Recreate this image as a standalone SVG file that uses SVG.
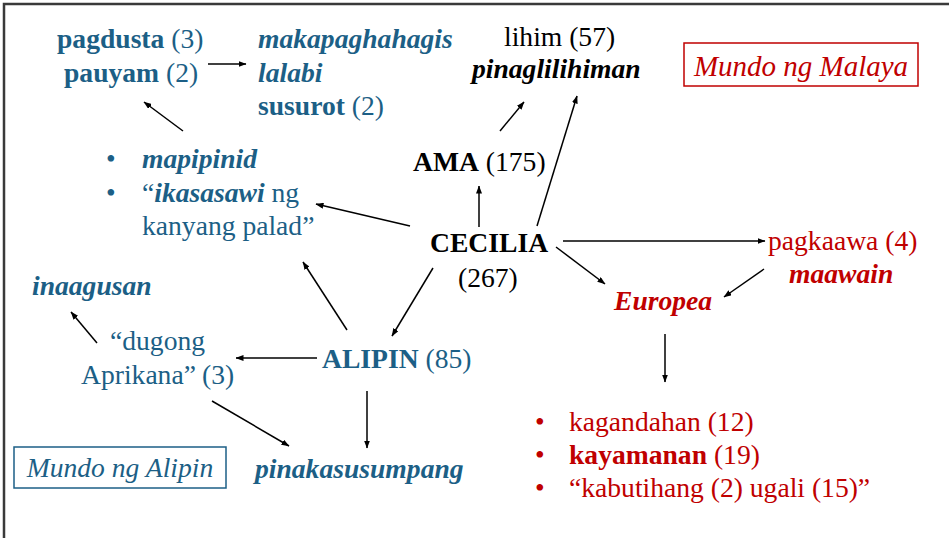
<svg xmlns="http://www.w3.org/2000/svg" width="949" height="538" viewBox="0 0 949 538">
<defs>
<marker id="ah" markerWidth="8" markerHeight="6" refX="7.5" refY="3" orient="auto" markerUnits="userSpaceOnUse">
<path d="M0,0 L8,3 L0,6 Z" fill="#000"/>
</marker>
<style>
text{font-family:"Liberation Serif","Times New Roman",serif;font-size:27.6px}
.t{fill:#1c5f86}.r{fill:#c00000}.k{fill:#000}
.b{font-weight:bold}.i{font-style:italic}.bi{font-weight:bold;font-style:italic}
.c line{stroke:#000;stroke-width:1.5;marker-end:url(#ah)}
</style>
</defs>
<rect width="949" height="538" fill="#fff"/>
<path d="M4,538 V4 H949" fill="none" stroke="#3a3a3a" stroke-width="2.5"/>

<g id="n-pagdusta" class="t">
<text x="57" y="48"><tspan class="b">pagdusta</tspan> (3)</text>
<text x="64" y="82"><tspan class="b">pauyam</tspan> (2)</text>
</g>
<g id="n-makapaghahagis" class="t">
<text x="258" y="48" class="bi">makapaghahagis</text>
<text x="258" y="82" class="bi">lalabi</text>
<text x="258" y="115"><tspan class="b">susurot</tspan> (2)</text>
</g>
<g id="n-lihim" class="k">
<text x="504" y="46">lihim (57)</text>
<text x="472" y="78" class="bi">pinaglilihiman</text>
</g>
<g id="n-malaya">
<rect x="684" y="43" width="234" height="43" fill="none" stroke="#c00000" stroke-width="1.5"/>
<text x="801" y="76" text-anchor="middle" class="r i" style="font-size:29px">Mundo ng Malaya</text>
</g>
<g id="n-mapipinid" class="t">
<text x="106" y="168">•</text>
<text x="142" y="168" class="bi">mapipinid</text>
<text x="106" y="202">•</text>
<text x="142" y="202">“<tspan class="bi">ikasasawi</tspan> ng</text>
<text x="142" y="235">kanyang palad”</text>
</g>
<g id="n-ama" class="k">
<text x="413" y="171"><tspan class="b">AMA</tspan> (175)</text>
</g>
<g id="n-cecilia" class="k">
<text x="430" y="252" class="b">CECILIA</text>
<text x="458" y="287">(267)</text>
</g>
<g id="n-pagkaawa" class="r">
<text x="768" y="250">pagkaawa (4)</text>
<text x="789" y="283" class="bi">maawain</text>
</g>
<g id="n-europea" class="r">
<text x="614" y="310" class="bi">Europea</text>
</g>
<g id="n-inaagusan" class="t">
<text x="32" y="295" class="bi">inaagusan</text>
</g>
<g id="n-dugong" class="t">
<text x="110" y="350">“dugong</text>
<text x="81" y="384">Aprikana” <tspan x="202">(3)</tspan></text>
</g>
<g id="n-alipin" class="t">
<text x="322" y="368"><tspan class="b">ALIPIN</tspan> (85)</text>
</g>
<g id="n-mundo-alipin">
<rect x="14" y="447" width="212" height="41" fill="none" stroke="#1c5f86" stroke-width="1.5"/>
<text x="120" y="477" text-anchor="middle" class="t i">Mundo ng Alipin</text>
</g>
<g id="n-pinakasusumpang" class="t">
<text x="255" y="478" class="bi">pinakasusumpang</text>
</g>
<g id="n-katangian" class="r">
<text x="535" y="431">•</text>
<text x="569" y="431">kagandahan (12)</text>
<text x="535" y="464">•</text>
<text x="569" y="464"><tspan class="b">kayamanan</tspan> (19)</text>
<text x="535" y="497">•</text>
<text x="569" y="497">“kabutihang (2) ugali (15)”</text>
</g>

<g id="connectors" class="c">
<line x1="208" y1="64" x2="246" y2="64"/>
<line x1="183" y1="131" x2="144" y2="102"/>
<line x1="410" y1="226" x2="316" y2="204"/>
<line x1="479" y1="227" x2="479" y2="186"/>
<line x1="500" y1="131" x2="524" y2="102"/>
<line x1="537" y1="226" x2="577" y2="96"/>
<line x1="563" y1="241" x2="765" y2="241"/>
<line x1="556" y1="247" x2="605" y2="284"/>
<line x1="764" y1="269" x2="724" y2="297"/>
<line x1="665" y1="334" x2="665" y2="382"/>
<line x1="433" y1="268" x2="392" y2="336"/>
<line x1="347" y1="330" x2="303" y2="262"/>
<line x1="317" y1="358" x2="236" y2="358"/>
<line x1="97" y1="343" x2="71" y2="312"/>
<line x1="212" y1="401" x2="289" y2="446"/>
<line x1="367" y1="391" x2="367" y2="448"/>
</g>
</svg>
